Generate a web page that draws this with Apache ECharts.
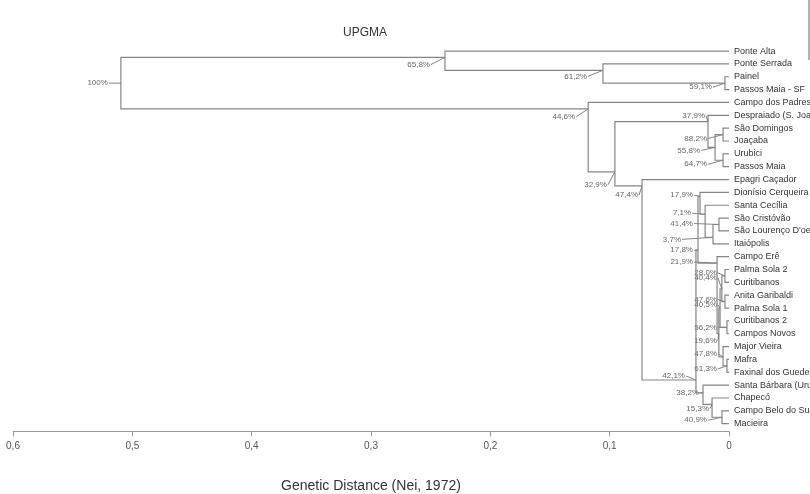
<!DOCTYPE html>
<html><head><meta charset="utf-8">
<script src="https://cdn.jsdelivr.net/npm/echarts@6/dist/echarts.min.js"></script>
<style>html,body{margin:0;padding:0;background:#fff}#c{width:810px;height:494px}</style>
</head><body><div id="c"></div>
<script>
// Leaves, top to bottom
const leaves = [
  'Ponte Alta','Ponte Serrada','Painel','Passos Maia - SF','Campo dos Padres',
  'Despraiado (S. Joaquim)','São Domingos','Joaçaba','Urubici','Passos Maia',
  'Epagri Caçador','Dionísio Cerqueira','Santa Cecília','São Cristóvão',"São Lourenço D'oeste",
  'Itaiópolis','Campo Erê','Palma Sola 2','Curitibanos','Anita Garibaldi',
  'Palma Sola 1','Curitibanos 2','Campos Novos','Major Vieira','Mafra',
  'Faxinal dos Guedes','Santa Bárbara (Urupema)','Chapecó','Campo Belo do Sul','Macieira'
];
// Internal nodes: [id, childA, childB, distance, row, bootstrap]
// children: number = leaf index, string = node id
const nodes = [
  ['n1', 2, 3, 0.0034, 2.5, '59,1%'],
  ['n2', 1, 'n1', 0.1056, 1.5, '61,2%'],
  ['n3', 0, 'n2', 0.238, 0.5, '65,8%'],
  ['sdj', 6, 7, 0.005, 6.5, '88,2%'],
  ['upm', 8, 9, 0.005, 8.5, '64,7%'],
  ['x2', 'sdj', 'upm', 0.0117, 7.5, '55,8%'],
  ['x', 5, 'x2', 0.0176, 5.5, '37,9%'],
  ['a1', 13, 14, 0.0084, 13.5, '41,4%'],
  ['a2', 'a1', 15, 0.0134, 14.5, '3,7%'],
  ['a3', 12, 'a2', 0.020, 12.7, '7,1%'],
  ['a4', 11, 'a3', 0.0243, 11.3, '17,9%'],
  ['p1', 17, 18, 0.0034, 17.5, '28,0%'],
  ['p2', 19, 20, 0.0034, 19.5, '47,6%'],
  ['p6', 'p1', 'p2', 0.006, 18.5, '40,4%'],
  ['p3', 21, 22, 0.0017, 21.5, '56,2%'],
  ['p7', 'p6', 'p3', 0.0075, 20, '40,5%'],
  ['p4', 24, 25, 0.0017, 24.5, '61,3%'],
  ['p5', 23, 'p4', 0.005, 23.8, '47,8%'],
  ['p8', 'p7', 'p5', 0.0085, 22, '19,6%'],
  ['b1', 16, 'p8', 0.0100, 16.5, '21,9%'],
  ['c1', 'a4', 'b1', 0.026, 15.5, '17,8%'],
  ['s3', 28, 29, 0.0059, 28.5, '40,9%'],
  ['s2', 27, 's3', 0.0142, 27.5, '15,3%'],
  ['s1', 26, 's2', 0.0218, 26.6, '38,2%'],
  ['z', 'c1', 's1', 0.0277, 25.6, '42,1%'],
  ['y', 10, 'z', 0.0729, 10.5, '47,4%'],
  ['c329', 'x', 'y', 0.0956, 9.4, '32,9%'],
  ['b', 4, 'c329', 0.118, 4.5, '44,6%'],
  ['root', 'n3', 'b', 0.5096, 2.5, '100%']
];
const xTicks = [0, 0.1, 0.2, 0.3, 0.4, 0.5, 0.6];

// Layout only: bootstrap label offsets in pixels from node [dx, dy]
const labelOffsets = {
  root:[-13,0], n3:[-15,7], n2:[-16,6], n1:[-13,4], b:[-13,8], x:[-3,-6],
  sdj:[-16,4], x2:[-15,3], upm:[-16,4], c329:[-8,13], y:[-4,9], a4:[-7,-1],
  a3:[-14,-1], a1:[-26,-1], a2:[-32,2], c1:[-5,0], b1:[-24,-1], p1:[-8,-3],
  p6:[-5,-11], p2:[-8,-2], p7:[-3,-3], p3:[-10,0], p8:[-2,7], p5:[-6,-3],
  p4:[-10,3], z:[-11,-4], s1:[-4,0], s2:[-3,4], s3:[-15,3]
};

const byId = {};
nodes.forEach(n => byId[n[0]] = {d: n[3], row: n[4]});
function pos(c){ return typeof c === 'number' ? {d:0,row:c} : byId[c]; }
const nodeData = nodes.map(n => {
  const a = pos(n[1]), b = pos(n[2]);
  return [n[3], n[4], a.d, a.row, b.d, b.row];
});
const leafData = leaves.map((_, i) => [0, i]);

const LINE = '#858585';
const chart = echarts.init(document.getElementById('c'), null, {renderer:'canvas'});
chart.setOption({
  animation: false,
  backgroundColor: '#fff',
  title: {text:'UPGMA', left: 338, top: 22,
    textStyle:{fontSize:12, fontWeight:'normal', color:'#333', fontFamily:'Liberation Sans'}},
  grid: {left: 13, right: 81, top: 44.6, bottom: 62.6, outerBoundsMode:'none', containLabel:false},
  xAxis: {
    type:'value', min:0, max:0.6, interval:0.1, inverse:true,
    name:'Genetic Distance (Nei, 1972)', nameLocation:'middle', nameGap:48,
    nameTextStyle:{fontSize:14, color:'#333', fontFamily:'Liberation Sans'},
    axisLine:{show:true, onZero:false, lineStyle:{color:'#999', width:1}},
    axisTick:{show:true, length:5, lineStyle:{color:'#999'}},
    axisLabel:{margin:10, fontSize:10, color:'#555', fontFamily:'Liberation Sans',
      customValues: xTicks,
      formatter: v => v === 0 ? '0' : v.toFixed(1).replace('.', ',')},
    splitLine:{show:false}
  },
  yAxis: {type:'value', min:-0.5, max:29.6, inverse:true, show:false},
  series: [
    {
      type:'custom', clip:false, data: nodeData,
      encode:{x:0, y:1},
      renderItem: (params, api) => {
        const n = nodes[params.dataIndex];
        const p = api.coord([api.value(0), api.value(1)]);
        const a = api.coord([api.value(2), api.value(3)]);
        const a2 = api.coord([api.value(0), api.value(3)]);
        const b2 = api.coord([api.value(0), api.value(5)]);
        const b = api.coord([api.value(4), api.value(5)]);
        const off = labelOffsets[n[0]] || [-12, 0];
        const tx = p[0] + off[0], ty = p[1] + off[1];
        return {type:'group', children:[
          {type:'polyline', shape:{points:[a, a2, b2, b]},
            style:{stroke:LINE, lineWidth:1.2, fill:'none'}},
          {type:'line', shape:{x1:tx + 1, y1:ty, x2:p[0], y2:p[1]},
            style:{stroke:'#666', lineWidth:0.8}},
          {type:'text', style:{text:n[5], x:tx, y:ty, align:'right', verticalAlign:'middle',
            fontSize:8, fontFamily:'Liberation Sans', fill:'#666'}}
        ]};
      }
    },
    {
      type:'custom', clip:false, data: leafData,
      encode:{x:0, y:1},
      renderItem: (params, api) => {
        const p = api.coord([api.value(0), api.value(1)]);
        return {type:'text', style:{text: leaves[params.dataIndex], x:p[0] + 5, y:p[1],
          align:'left', verticalAlign:'middle', fontSize:9, fontFamily:'Liberation Sans', fill:'#333'}};
      }
    }
  ],
  graphic: [
    {type:'line', shape:{x1:809, y1:0, x2:809, y2:60}, style:{stroke:'#666', lineWidth:1}}
  ]
});
</script></body></html>
